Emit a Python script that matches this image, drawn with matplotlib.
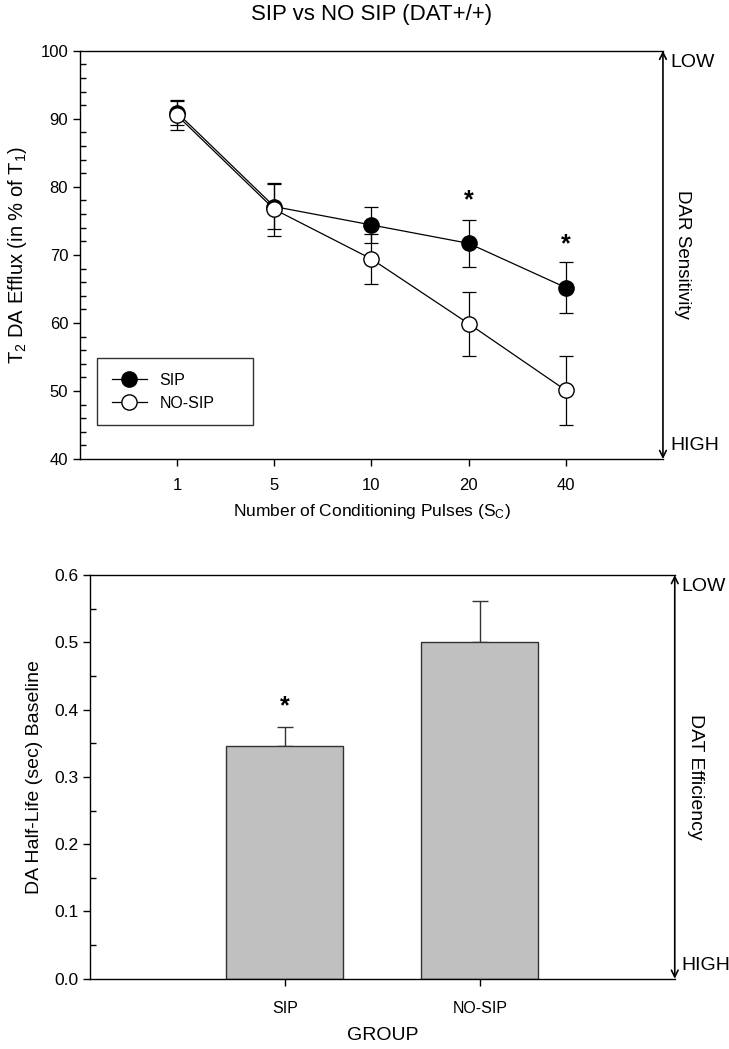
import matplotlib
matplotlib.use("Agg")
import matplotlib.pyplot as plt
from matplotlib.ticker import MultipleLocator, FormatStrFormatter

plt.rcParams['font.family'] = ['Liberation Sans', 'DejaVu Sans']
plt.rcParams['mathtext.default'] = 'regular'

# Top panel data
pulses = ['1', '5', '10', '20', '40']
sip_mean = [90.9, 77.1, 74.4, 71.7, 65.2]
sip_err = [1.8, 3.3, 2.7, 3.5, 3.8]
nosip_mean = [90.5, 76.7, 69.4, 59.9, 50.1]
nosip_err = [2.1, 3.9, 3.7, 4.7, 5.1]
star_pulses = ['20', '40']
star_y = [78.0, 71.6]

# Bottom panel data
groups = ['SIP', 'NO-SIP']
halflife = [0.346, 0.501]
halflife_err = [0.028, 0.060]
bar_star_y = 0.405

fig = plt.figure(figsize=(7.29, 10.49), dpi=100)
ax1 = fig.add_axes([0.1097, 0.5624, 0.7997, 0.3892])
ax2 = fig.add_axes([0.1235, 0.0670, 0.8021, 0.3848])

for ax in (ax1, ax2):
    ax.spines['right'].set_visible(False)
    for s in ('left', 'bottom', 'top'):
        ax.spines[s].set_linewidth(1.0)
    ax.tick_params(which='major', direction='out', length=5, width=1, right=False, top=False)
    ax.tick_params(which='minor', direction='in', length=4, width=1, right=False, top=False)
    ax.annotate('', xy=(1, 1), xytext=(1, 0), xycoords='axes fraction',
                arrowprops=dict(arrowstyle='<->', lw=1.2, color='black',
                                shrinkA=0, shrinkB=0, mutation_scale=12))
    ax.text(1.012, 0.972, 'LOW', transform=ax.transAxes, fontsize=14, va='center', ha='left')
    ax.text(1.012, 0.032, 'HIGH', transform=ax.transAxes, fontsize=14, va='center', ha='left')

# Top panel
x = list(range(1, len(pulses) + 1))
ax1.errorbar(x, sip_mean, yerr=sip_err, fmt='none', ecolor='black', elinewidth=0.9, capsize=5, capthick=0.9, zorder=2)
ax1.errorbar(x, nosip_mean, yerr=nosip_err, fmt='none', ecolor='black', elinewidth=0.9, capsize=5, capthick=0.9, zorder=2)
ax1.plot(x, sip_mean, '-o', color='black', lw=0.9, markersize=11, markerfacecolor='black',
         markeredgecolor='black', label='SIP', zorder=3)
ax1.plot(x, nosip_mean, '-o', color='black', lw=0.9, markersize=11, markerfacecolor='white',
         markeredgecolor='black', label='NO-SIP', zorder=4)
for p, y in zip(star_pulses, star_y):
    ax1.text(pulses.index(p) + 1, y, '*', ha='center', va='center', fontsize=18, fontweight='bold')

ax1.set_xlim(0, len(pulses) + 1)
ax1.set_xticks(x)
ax1.set_xticklabels(pulses)
ax1.tick_params(axis='both', which='major', labelsize=12)
ax1.tick_params(axis='x', pad=9)
ax1.set_ylim(40, 100)
ax1.yaxis.set_major_locator(MultipleLocator(10))
ax1.yaxis.set_minor_locator(MultipleLocator(2))
ax1.set_xlabel('Number of Conditioning Pulses (S$_C$)', fontsize=12.5, labelpad=6)
ax1.set_ylabel('T$_2$ DA Efflux (in % of T$_1$)', fontsize=14.5, labelpad=8)
ax1.text(1.034, 0.5, 'DAR Sensitivity', transform=ax1.transAxes, rotation=-90,
         fontsize=13.5, va='center', ha='center')
leg = ax1.legend(loc='lower left', bbox_to_anchor=(0.03, 0.083, 0.267, 0.162), mode='expand',
                 fancybox=False, edgecolor='black', fontsize=11.5, borderaxespad=0,
                 handlelength=2.2, labelspacing=0.5, borderpad=0.9)
leg.get_frame().set_linewidth(1.0)
ax1.set_title('SIP vs NO SIP (DAT+/+)', fontsize=16, pad=22)

# Bottom panel
xb = list(range(1, len(groups) + 1))
ax2.bar(xb, halflife, width=0.6, color='#c0c0c0', edgecolor='#333333', linewidth=1.0, zorder=2)
ax2.errorbar(xb, halflife, yerr=[[0] * len(halflife), halflife_err], fmt='none', ecolor='#333333',
             elinewidth=1.0, capsize=6, capthick=1.0, zorder=1)
ax2.text(1, bar_star_y, '*', ha='center', va='center', fontsize=18, fontweight='bold')
ax2.set_xlim(0, len(groups) + 1)
ax2.set_xticks(xb)
ax2.set_xticklabels(groups)
ax2.tick_params(axis='x', which='major', labelsize=11.5, pad=11)
ax2.tick_params(axis='y', which='major', labelsize=12.5)
ax2.set_ylim(0, 0.6)
ax2.yaxis.set_major_locator(MultipleLocator(0.1))
ax2.yaxis.set_minor_locator(MultipleLocator(0.05))
ax2.yaxis.set_major_formatter(FormatStrFormatter('%.1f'))
ax2.set_xlabel('GROUP', fontsize=14, labelpad=8)
ax2.set_ylabel('DA Half-Life (sec) Baseline', fontsize=14, labelpad=8)
ax2.text(1.035, 0.5, 'DAT Efficiency', transform=ax2.transAxes, rotation=-90,
         fontsize=14, va='center', ha='center')

fig.savefig('out.png', dpi=100)
